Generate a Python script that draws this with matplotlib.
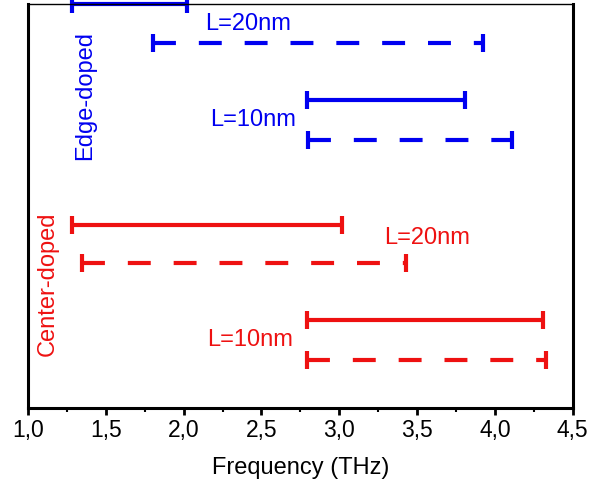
import matplotlib
matplotlib.use("Agg")
import matplotlib.pyplot as plt
from matplotlib.ticker import MultipleLocator, FuncFormatter

plt.rcParams['font.family'] = ['Liberation Sans', 'DejaVu Sans']

# frequency ranges (THz) for each bar: start, end
edge_starts = [1.28, 1.80, 2.79, 2.80]
edge_ends = [2.02, 3.92, 3.81, 4.11]
edge_rows = [10.1, 9.12, 7.7, 6.7]

center_starts = [1.28, 1.35, 2.79, 2.79]
center_ends = [3.02, 3.43, 4.31, 4.33]
center_rows = [4.57, 3.62, 2.2, 1.2]

styles = ['solid', 'dashed', 'solid', 'dashed']

blue = '#0000f0'
red = '#ee1111'

fig = plt.figure(figsize=(5.89, 4.88), dpi=100)
ax = fig.add_axes([0.0475, 0.164, 0.925, 0.828])

def draw_bar(x0, x1, y, color, style):
    ls = '-' if style == 'solid' else (0, (5.5, 5.5))
    ax.plot([x0, x1], [y, y], color=color, lw=3, linestyle=ls,
            marker='|', markersize=13, markeredgewidth=3,
            solid_capstyle='butt', dash_capstyle='butt', clip_on=False)

for a, b, y, s in zip(edge_starts, edge_ends, edge_rows, styles):
    draw_bar(a, b, y, blue, s)
for a, b, y, s in zip(center_starts, center_ends, center_rows, styles):
    draw_bar(a, b, y, red, s)

# labels
fs = 17
ax.text(2.14, 9.6, 'L=20nm', color=blue, fontsize=fs, ha='left', va='center')
ax.text(2.17, 7.2, 'L=10nm', color=blue, fontsize=fs, ha='left', va='center')
ax.text(1.37, 7.8, 'Edge-doped', color=blue, fontsize=fs, rotation=90,
        ha='center', va='center')
ax.text(3.29, 4.25, 'L=20nm', color=red, fontsize=fs, ha='left', va='center')
ax.text(2.15, 1.7, 'L=10nm', color=red, fontsize=fs, ha='left', va='center')
ax.text(1.13, 3.1, 'Center-doped', color=red, fontsize=fs, rotation=90,
        ha='center', va='center')

ax.set_xlim(1.0, 4.5)
ax.set_ylim(0, 10.1)
ax.set_yticks([])
ax.xaxis.set_major_locator(MultipleLocator(0.5))
ax.xaxis.set_minor_locator(MultipleLocator(0.25))
ax.xaxis.set_major_formatter(FuncFormatter(lambda v, p: f'{v:.1f}'.replace('.', ',')))
ax.tick_params(axis='x', which='major', direction='out', length=5, width=2,
               labelsize=16.5, pad=3)
ax.tick_params(axis='x', which='minor', direction='out', length=3, width=1.5)
ax.set_xlabel('Frequency (THz)', fontsize=17, labelpad=11)

for side in ['left', 'right', 'bottom']:
    ax.spines[side].set_linewidth(2.2)
ax.spines['top'].set_linewidth(1)

fig.savefig('out.png', dpi=100)
